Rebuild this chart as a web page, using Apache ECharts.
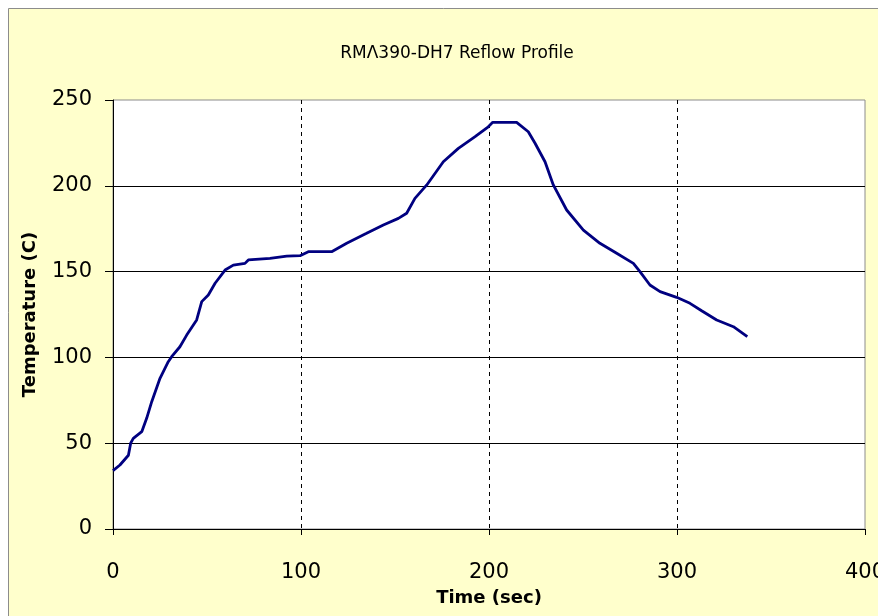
<!DOCTYPE html>
<html>
<head>
<meta charset="utf-8">
<script src="https://cdn.jsdelivr.net/npm/echarts@6/dist/echarts.min.js"></script>
<style>
html,body{margin:0;padding:0;background:#ffffff;}
#c{width:878px;height:616px;}
</style>
</head>
<body>
<div id="c"></div>
<script>
// Time (sec)
var timeSec = [0, 1, 3.7, 8.2, 9.4, 10.8, 15.3, 17.9, 20.6, 25, 29.4, 31.2, 35.6, 39.2, 44.5, 47.2, 50.7, 54.3, 59.6, 64, 70.2, 72, 83.5, 92.4, 99.5, 103.9, 116.3, 124.3, 134.9, 143.8, 151.8, 156.2, 160.6, 166.9, 175.7, 183.7, 192.6, 199.6, 202, 214.7, 220.9, 224.5, 229.8, 234.2, 241.3, 250.2, 259, 267.9, 276.8, 280.3, 285.6, 291, 299.8, 306.9, 313.1, 321.1, 330, 337.4];
// Temperature (C)
var tempC = [34, 35, 37.3, 43, 50, 52.8, 56.7, 64.5, 74.2, 87.8, 97.5, 100.4, 106.2, 113, 121.8, 132.5, 136.4, 143.2, 150.9, 153.8, 154.8, 156.8, 157.7, 159, 159.3, 161.6, 161.6, 166.5, 172.3, 177.2, 181, 184, 192.7, 200.5, 214, 221.8, 228.6, 234.4, 237, 237, 231.5, 224.8, 214, 200.5, 185.9, 174.2, 166.5, 160.7, 154.8, 150, 142.2, 138.3, 135, 131.5, 127.2, 121.8, 117.9, 112.1];
var xTicks = [0, 100, 200, 300, 400];
var yTicks = [0, 50, 100, 150, 200, 250];
var titleText = 'RMΛ390-DH7 Reflow Profile';
var xName = 'Time (sec)';
var yName = 'Temperature (C)';

var pts = timeSec.map(function(t, i){ return [t, tempC[i]]; });

var FONT = 'DejaVu Sans, Liberation Sans, sans-serif';
var chart = echarts.init(document.getElementById('c'), null, {renderer:'canvas'});
chart.setOption({
  animation:false,
  backgroundColor:'#ffffff',
  graphic:[{
    type:'rect', z:-10, silent:true,
    shape:{x:8.5, y:8.5, width:900, height:700},
    style:{fill:'#FFFFCC', stroke:'#8c8c8c', lineWidth:1}
  }],
  title:{
    text:titleText, left:452, top:40, textAlign:'center',
    textStyle:{fontFamily:FONT, fontSize:17, fontWeight:'normal', color:'#000'}
  },
  grid:{left:113, top:100, width:752, height:429, show:true, backgroundColor:'#ffffff', borderColor:'#8c8c8c', borderWidth:1, outerBoundsMode:'none', containLabel:false},
  xAxis:{
    type:'value', min:xTicks[0], max:xTicks[xTicks.length-1], interval:100,
    name:xName, nameLocation:'middle', nameGap:60,
    nameTextStyle:{fontFamily:FONT, fontSize:18, fontWeight:'bold', color:'#000'},
    axisLine:{show:true, onZero:false, lineStyle:{color:'#000', width:1}},
    axisTick:{show:true, length:6, lineStyle:{color:'#000'}},
    axisLabel:{margin:33, fontFamily:FONT, fontSize:21, color:'#000', hideOverlap:false},
    splitLine:{show:true, showMinLine:false, showMaxLine:false, lineStyle:{color:'#000', type:[4,4], width:1}}
  },
  yAxis:{
    type:'value', min:yTicks[0], max:yTicks[yTicks.length-1], interval:50,
    name:yName, nameLocation:'middle', nameGap:74,
    nameTextStyle:{fontFamily:FONT, fontSize:18, fontWeight:'bold', color:'#000'},
    axisLine:{show:true, onZero:false, lineStyle:{color:'#000', width:1}},
    axisTick:{show:true, length:8, lineStyle:{color:'#000'}},
    axisLabel:{margin:21, fontFamily:FONT, fontSize:21, color:'#000'},
    splitLine:{show:true, showMinLine:false, showMaxLine:false, lineStyle:{color:'#000', width:1}}
  },
  series:[{
    type:'line', data:pts, showSymbol:false, smooth:false,
    lineStyle:{color:'#000080', width:2.8},
    clip:true
  }]
});
</script>
</body>
</html>
